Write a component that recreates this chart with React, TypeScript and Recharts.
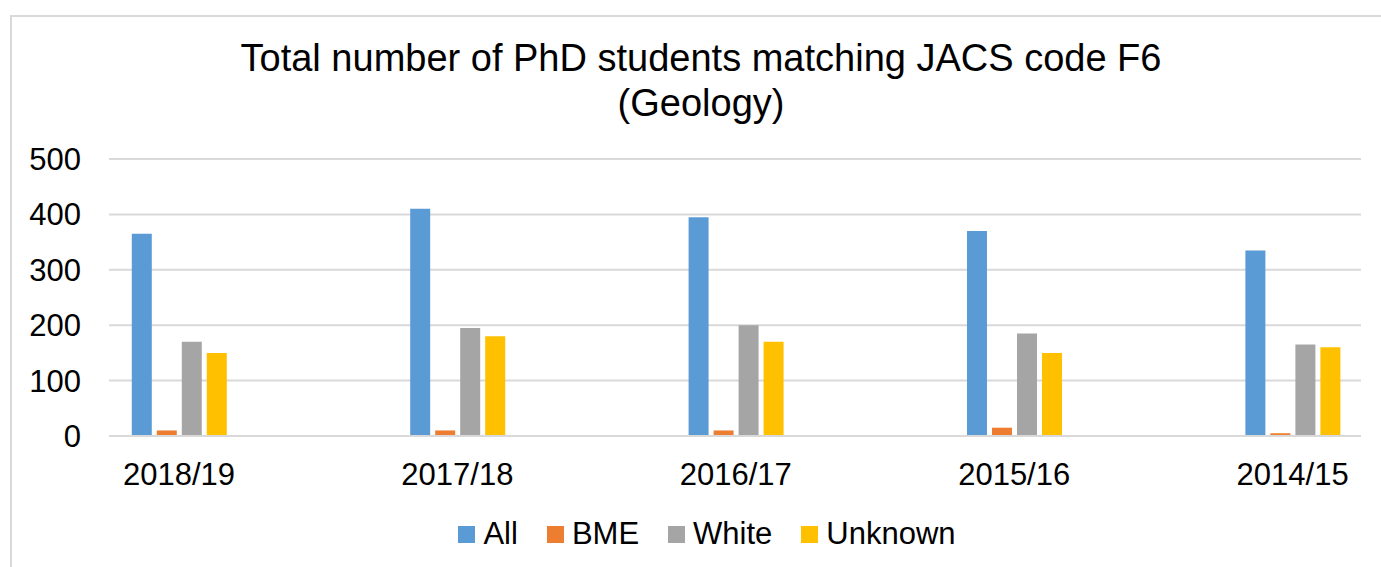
import { Bar, BarChart, CartesianGrid, Legend, XAxis, YAxis } from "recharts";

const YEARS = ["2018/19", "2017/18", "2016/17", "2015/16", "2014/15"];
const ALL = [365, 410, 395, 370, 335];
const BME = [10, 10, 10, 15, 5];
const WHITE = [170, 195, 200, 185, 165];
const UNKNOWN = [150, 180, 170, 150, 160];
const Y_TICKS = [0, 100, 200, 300, 400, 500];

const SERIES = [
  { key: "All", color: "#5b9bd5" },
  { key: "BME", color: "#ed7d31" },
  { key: "White", color: "#a5a5a5" },
  { key: "Unknown", color: "#ffc000" },
];

const rows = YEARS.map((year, i) => ({
  idx: i,
  year,
  All: ALL[i],
  BME: BME[i],
  White: WHITE[i],
  Unknown: UNKNOWN[i],
}));

const FONT = "'Liberation Sans', Arial, sans-serif";
const GRID = "#d9d9d9";

function LegendRow() {
  return (
    <div style={{ display: "flex", justifyContent: "center", alignItems: "center", fontFamily: FONT, fontSize: 31, lineHeight: "34px", color: "#000" }}>
      {SERIES.map((s, i) => (
        <div key={s.key} style={{ display: "flex", alignItems: "center", marginLeft: i ? 29 : 0 }}>
          <span style={{ width: 17, height: 17, background: s.color, marginRight: 8, display: "inline-block" }} />
          <span>{s.key}</span>
        </div>
      ))}
    </div>
  );
}

export default function App() {
  return (
    <div style={{ position: "fixed", left: 0, top: 0, width: 1381, height: 567, overflow: "hidden", background: "#fff" }}>
      <div
        style={{
          position: "absolute",
          left: 10,
          top: 15,
          width: 1400,
          height: 600,
          borderLeft: `2px solid ${GRID}`,
          borderTop: `2px solid ${GRID}`,
        }}
      />
      <div
        style={{
          position: "absolute",
          left: 1,
          top: 36,
          width: 1400,
          textAlign: "center",
          fontFamily: FONT,
          fontSize: 38,
          lineHeight: "45px",
          color: "#000",
        }}
      >
        Total number of PhD students matching JACS code F6
        <br />
        (Geology)
      </div>
      <div style={{ position: "absolute", left: 0, top: 0 }}>
        <BarChart
          width={1381}
          height={567}
          data={rows}
          margin={{ top: 159, right: 20, bottom: 47, left: 0 }}
          barSize={20}
          barGap={5}
        >
          <CartesianGrid horizontal vertical={false} stroke={GRID} strokeWidth={2} />
          <XAxis
            type="number"
            dataKey="idx"
            domain={[-0.2514, 4.2457]}
            ticks={[0, 1, 2, 3, 4]}
            tickFormatter={(v: number) => YEARS[v]}
            height={50}
            tickLine={false}
            axisLine={{ stroke: GRID, strokeWidth: 2 }}
            tickMargin={21}
            tick={{ fill: "#000", fontSize: 31, fontFamily: FONT }}
          />
          <YAxis
            domain={[0, 500]}
            ticks={Y_TICKS}
            width={109}
            tickLine={false}
            axisLine={false}
            tickMargin={22}
            tick={{ fill: "#000", fontSize: 31, fontFamily: FONT }}
          />
          <Legend
            verticalAlign="bottom"
            content={() => <LegendRow />}
            wrapperStyle={{ left: 207, width: 1000, bottom: 16 }}
          />
          {SERIES.map((s) => (
            <Bar key={s.key} dataKey={s.key} fill={s.color} isAnimationActive={false} />
          ))}
        </BarChart>
      </div>
    </div>
  );
}
